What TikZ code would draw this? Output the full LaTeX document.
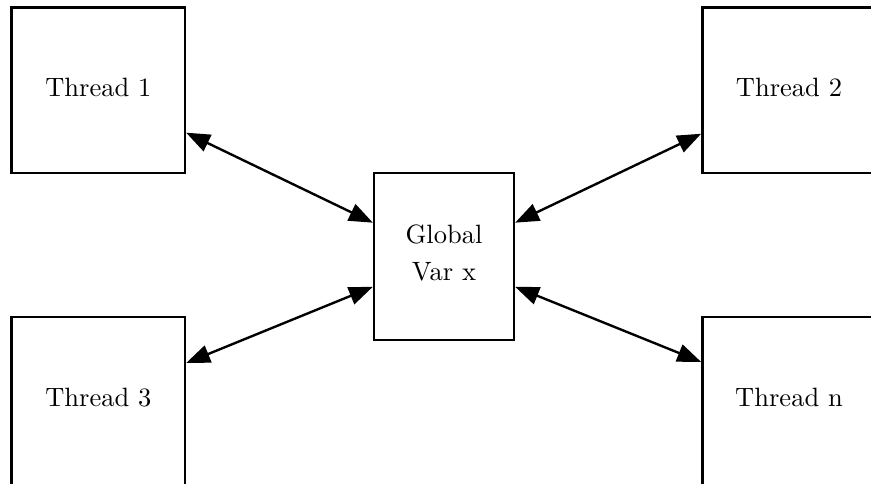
\documentclass[tikz,border=0pt]{standalone}
\usetikzlibrary{arrows.meta}
\begin{document}
\begin{tikzpicture}[x=0.3774pt, y=-0.3774pt,
  box/.style={draw, line width=0.9pt, inner sep=0pt},
  threadbox/.style={box, minimum width=65.4pt, minimum height=62.6pt,
    text depth=2.1pt},
  lowthreadbox/.style={box, minimum width=65.4pt, minimum height=68pt,
    text depth=7.7pt},
  varbox/.style={box, align=center, minimum width=52.8pt,
    minimum height=62.9pt, text depth=3pt},
  link/.style={line width=0.9pt,
    {Triangle[length=9pt,width=6.8pt]}-{Triangle[length=9pt,width=6.8pt]}}]
  \useasboundingbox (0,0) rectangle (871,483);
  \clip (0,0) rectangle (871,483);

  % thread boxes
  \node[threadbox]    (t1) at (98.3,90.3) {Thread 1};
  \node[threadbox]    (t2) at (789,90.3)  {Thread 2};
  \node[lowthreadbox] (t3) at (98.3,407)  {Thread 3};
  \node[lowthreadbox] (tn) at (789,407)   {Thread n};

  % shared variable
  \node[varbox] (g) at (444,256.6) {Global\\[2pt]Var x};

  % accesses
  \draw[link] ([yshift=-16pt]t1.east)   -- ([yshift=12.8pt]g.west);
  \draw[link] ([yshift=-16.4pt]t2.west) -- ([yshift=12.8pt]g.east);
  \draw[link] ([yshift=16.6pt]t3.east)  -- ([yshift=-11.4pt]g.west);
  \draw[link] ([yshift=17pt]tn.west)    -- ([yshift=-11.4pt]g.east);
\end{tikzpicture}
\end{document}
